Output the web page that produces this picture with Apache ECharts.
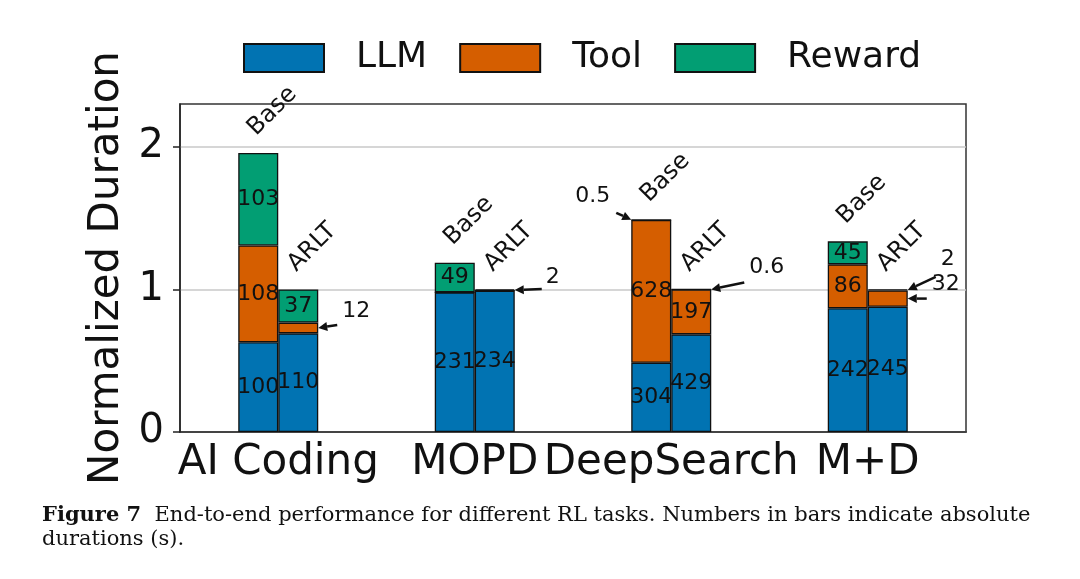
<!DOCTYPE html>
<html lang="en">
<head>
    <meta charset="UTF-8">
    <title>End-to-end performance</title>
    <script src="https://cdn.jsdelivr.net/npm/echarts@6.0.0/dist/echarts.min.js"></script>
    <style>
        html, body { margin: 0; padding: 0; background: #fff; }
        #main { width: 1080px; height: 579px; }
    </style>
</head>
<body>
    <div id="main"></div>
    <script>
        // 任务类别
        var categories = ['AI Coding', 'MOPD', 'DeepSearch', 'M+D'];
        var parts = ['LLM', 'Tool', 'Reward'];
        // 绝对耗时 (s)
        var baseLLM = [100, 231, 304, 242];
        var baseTool = [108, 0, 628, 86];
        var baseReward = [103, 49, 0.5, 45];
        var arltLLM = [110, 234, 429, 245];
        var arltTool = [12, 0, 197, 32];
        var arltReward = [37, 2, 0.6, 2];
        var yTicks = [0, 1, 2];

        var colors = { LLM: '#0173b2', Tool: '#d55e00', Reward: '#029e73' };
        var raw = {
            base: { LLM: baseLLM, Tool: baseTool, Reward: baseReward },
            arlt: { LLM: arltLLM, Tool: arltTool, Reward: arltReward }
        };
        // 以 ARLT 总耗时归一化
        var arltTotal = categories.map(function (c, i) {
            return arltLLM[i] + arltTool[i] + arltReward[i];
        });

        // 小段用箭头标注
        var callouts = [
            { cat: 0, bar: 'arlt', part: 'Tool', at: 'right', tail: [19, -3], text: [24, -17], align: 'left' },
            { cat: 1, bar: 'arlt', part: 'Reward', at: 'right', tail: [27, -1], text: [31, -13], align: 'left' },
            { cat: 2, bar: 'base', part: 'Reward', at: 'topleft', tail: [-15, -7], text: [-21, -23], align: 'right' },
            { cat: 2, bar: 'arlt', part: 'Reward', at: 'right', tail: [33, -7], text: [38, -22], align: 'left' },
            { cat: 3, bar: 'arlt', part: 'Reward', at: 'right', tail: [28, -13], text: [33, -31], align: 'left' },
            { cat: 3, bar: 'arlt', part: 'Tool', at: 'right', tail: [19, 0], text: [24, -14], align: 'left' }
        ];
        function isCallout(bar, part, i) {
            return callouts.some(function (c) { return c.bar === bar && c.part === part && c.cat === i; });
        }

        var FONT = 'DejaVu Sans';
        var series = [];
        ['base', 'arlt'].forEach(function (bar) {
            parts.forEach(function (part) {
                var vals = raw[bar][part];
                series.push({
                    name: part,
                    type: 'bar',
                    stack: bar,
                    barWidth: 40,
                    barGap: '0%',
                    itemStyle: { color: colors[part], borderColor: '#111', borderWidth: 1.3 },
                    label: {
                        position: 'inside',
                        color: '#111',
                        fontFamily: FONT,
                        fontSize: 22,
                        formatter: function (p) { return String(vals[p.dataIndex]); }
                    },
                    emphasis: { disabled: true },
                    data: vals.map(function (v, i) {
                        return {
                            value: v / arltTotal[i],
                            label: { show: v > 0 && !isCallout(bar, part, i) }
                        };
                    })
                });
            });
        });

        var chart = echarts.init(document.getElementById('main'));
        var option = {
            backgroundColor: '#fff',
            animation: false,
            legend: {
                data: parts,
                left: 243,
                top: 40,
                padding: 0,
                itemWidth: 80,
                itemHeight: 28,
                itemGap: 32,
                icon: 'rect',
                textStyle: { fontFamily: FONT, fontSize: 36, color: '#111', padding: [0, 0, 0, 27] }
            },
            grid: {
                left: 180, right: 114, top: 104, bottom: 147,
                show: true, borderColor: '#333', borderWidth: 1.5
            },
            xAxis: {
                type: 'category',
                data: categories,
                axisLine: { lineStyle: { color: '#222', width: 1.5 } },
                axisTick: { alignWithLabel: true, length: 7, lineStyle: { color: '#222', width: 1.5 } },
                axisLabel: { interval: 0, hideOverlap: false, fontFamily: FONT, fontSize: 42, color: '#111', margin: 10 }
            },
            yAxis: {
                type: 'value',
                min: 0,
                max: 2.3,
                interval: 1,
                name: 'Normalized Duration',
                nameLocation: 'middle',
                nameGap: 52,
                nameTextStyle: { fontFamily: FONT, fontSize: 42, color: '#111' },
                axisLine: { show: true, lineStyle: { color: '#222', width: 1.5 } },
                axisTick: { show: true, length: 7, customValues: yTicks, lineStyle: { color: '#222', width: 1.5 } },
                axisLabel: { fontFamily: FONT, fontSize: 40, color: '#111', margin: 16, customValues: yTicks },
                splitLine: { lineStyle: { color: '#c8c8c8', width: 1.5 } }
            },
            series: series
        };
        chart.setOption(option);

        // 标注：Base/ARLT 斜体标签 + 箭头
        function barLayout(bar, part, i) {
            var si = (bar === 'base' ? 0 : 3) + parts.indexOf(part);
            var data = chart.getModel().getSeriesByIndex(si).getData();
            var l = data.getItemLayout(i);
            var top = Math.min(l.y, l.y + l.height);
            var bottom = Math.max(l.y, l.y + l.height);
            return { left: l.x, right: l.x + l.width, cx: l.x + l.width / 2, top: top, bottom: bottom, cy: (top + bottom) / 2 };
        }
        var graphics = [];
        categories.forEach(function (c, i) {
            [['base', 'Base'], ['arlt', 'ARLT']].forEach(function (b) {
                var lay = barLayout(b[0], 'Reward', i);
                graphics.push({
                    type: 'text', x: lay.cx + 14, y: lay.top - 42, rotation: Math.PI / 4,
                    style: { text: b[1], font: '24px "DejaVu Sans"', fill: '#111', align: 'center', verticalAlign: 'middle' }
                });
            });
        });
        callouts.forEach(function (c) {
            var lay = barLayout(c.bar, c.part, c.cat);
            var tip = c.at === 'right' ? [lay.right, lay.cy] : [lay.left, lay.top];
            var tail = [tip[0] + c.tail[0], tip[1] + c.tail[1]];
            var dx = tip[0] - tail[0], dy = tip[1] - tail[1];
            var len = Math.sqrt(dx * dx + dy * dy);
            var ux = dx / len, uy = dy / len;
            var hl = 9, hw = 4.5;
            var bx = tip[0] - ux * hl, by = tip[1] - uy * hl;
            graphics.push({
                type: 'line',
                shape: { x1: tail[0], y1: tail[1], x2: bx, y2: by },
                style: { stroke: '#111', lineWidth: 2.5 }
            });
            graphics.push({
                type: 'polygon',
                shape: { points: [tip, [bx - uy * hw, by + ux * hw], [bx + uy * hw, by - ux * hw]] },
                style: { fill: '#111' }
            });
            graphics.push({
                type: 'text', x: tip[0] + c.text[0], y: tip[1] + c.text[1],
                style: { text: String(raw[c.bar][c.part][c.cat]), font: '22px "DejaVu Sans"', fill: '#111', align: c.align, verticalAlign: 'middle' }
            });
        });
        // 图注
        graphics.push({
            type: 'text', x: 42, y: 526,
            style: {
                text: '{b|Figure 7}  End-to-end performance for different RL tasks. Numbers in bars indicate absolute',
                rich: { b: { fontFamily: 'DejaVu Serif', fontWeight: 'bold', fontSize: 21, fill: '#111' } },
                font: '21px "DejaVu Serif"', fill: '#111', verticalAlign: 'bottom'
            }
        });
        graphics.push({
            type: 'text', x: 42, y: 550,
            style: { text: 'durations (s).', font: '21px "DejaVu Serif"', fill: '#111', verticalAlign: 'bottom' }
        });
        chart.setOption({ graphic: graphics });
    </script>
</body>
</html>
